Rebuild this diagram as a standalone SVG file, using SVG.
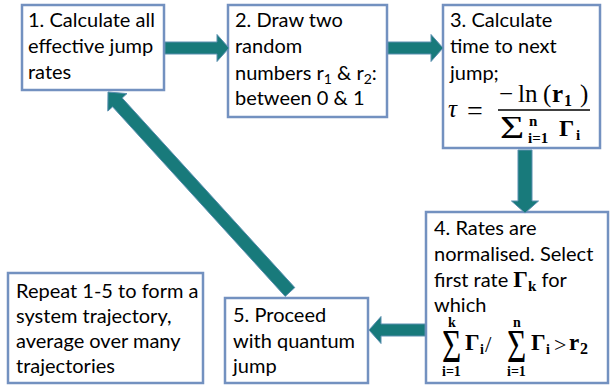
<svg xmlns="http://www.w3.org/2000/svg" width="611" height="385" viewBox="0 0 611 385">
<style>
.box{fill:#fff;stroke:#7391c0;stroke-width:2.5}
.t{font-family:Lato,"Open Sans",sans-serif;font-size:20px;fill:#000}
.m{font-family:"Liberation Serif","DejaVu Serif",serif;fill:#000}
.b{font-weight:bold}
.arr{fill:#187a7b;stroke:#5a8fb0;stroke-width:1}
</style>
<rect width="611" height="385" fill="#fff"/>
<g id="node1">
<rect class="box" x="22" y="5" width="142" height="85"/>
<text class="t" x="28" y="27">1. Calculate all</text>
<text class="t" x="28" y="53">effective jump</text>
<text class="t" x="28" y="79">rates</text>
</g>
<g id="node2">
<rect class="box" x="228" y="5" width="159" height="112"/>
<text class="t" x="235" y="27">2. Draw two</text>
<text class="t" x="235" y="53">random</text>
<text class="t" x="235" y="80">numbers r<tspan font-size="14" dy="4">1</tspan><tspan dy="-4"> &amp; r</tspan><tspan font-size="14" dy="4">2</tspan><tspan dy="-4">:</tspan></text>
<text class="t" x="235" y="105">between 0 &amp; 1</text>
</g>
<g id="node3">
<rect class="box" x="443" y="5" width="157" height="143"/>
<text class="t" x="450" y="27">3. Calculate</text>
<text class="t" x="450" y="53">time to next</text>
<text class="t" x="450" y="80">jump;</text>
<text class="m" x="448" y="117" font-size="25" font-style="italic">τ</text>
<text class="m" x="467" y="120" font-size="28">=</text>
<line x1="498" y1="110" x2="590" y2="110" stroke="#000" stroke-width="1.3"/>
<text class="m" x="499" y="102" font-size="25">−</text>
<text class="m" x="518" y="102" font-size="25">ln</text>
<text class="m" x="543" y="102" font-size="25">(</text>
<text class="m b" x="552" y="102" font-size="25">r</text>
<text class="m b" x="564" y="106" font-size="16">1</text>
<text class="m" x="580" y="102" font-size="25">)</text>
<text class="m" font-size="32" transform="translate(500,138) scale(1.3,1)">Σ</text>
<text class="m b" x="529" y="126" font-size="15">n</text>
<text class="m b" x="528" y="143" font-size="15">i=1</text>
<text class="m b" x="559" y="136" font-size="24">Γ</text>
<text class="m b" x="576" y="140" font-size="15">i</text>
</g>
<g id="node4">
<rect class="box" x="426" y="212" width="182" height="171"/>
<text class="t" x="434" y="235">4. Rates are</text>
<text class="t" x="434" y="261">normalised. Select</text>
<text class="t" x="434" y="287">first rate <tspan class="m b" font-size="23">Γ</tspan><tspan class="m b" font-size="15" dy="4">k</tspan><tspan dy="-4"> for</tspan></text>
<text class="t" x="434" y="312">which</text>
<text class="m" font-size="46" transform="translate(442,362) scale(0.72,1)">Σ</text>
<text class="m b" x="448" y="327" font-size="14">k</text>
<text class="m b" x="442" y="376" font-size="14">i=1</text>
<text class="m b" x="465" y="350" font-size="23">Γ</text>
<text class="m b" x="480" y="354" font-size="14">i</text>
<text class="m" x="485" y="352" font-size="23">/</text>
<text class="m" font-size="46" transform="translate(507,362) scale(0.72,1)">Σ</text>
<text class="m b" x="513" y="327" font-size="14">n</text>
<text class="m b" x="507" y="376" font-size="14">i=1</text>
<text class="m b" x="531" y="350" font-size="23">Γ</text>
<text class="m b" x="546" y="354" font-size="14">i</text>
<text class="m" x="554" y="352" font-size="22">&gt;</text>
<text class="m b" x="569" y="350" font-size="23">r</text>
<text class="m b" x="580" y="354" font-size="16">2</text>
</g>
<g id="node5">
<rect class="box" x="225" y="298" width="143" height="85"/>
<text class="t" x="233" y="322">5. Proceed</text>
<text class="t" x="233" y="348">with quantum</text>
<text class="t" x="233" y="373">jump</text>
</g>
<g id="note">
<rect class="box" x="8" y="273" width="195" height="110"/>
<text class="t" x="16" y="298">Repeat 1-5 to form a</text>
<text class="t" x="16" y="323">system trajectory,</text>
<text class="t" x="16" y="348">average over many</text>
<text class="t" x="16" y="373">trajectories</text>
</g>
<g id="connectors">
<polygon class="arr" points="165,42 217,42 217,34.5 229,48 217,61.5 217,54 165,54"/>
<polygon class="arr" points="388,42 431,42 431,34.5 443,48 431,61.5 431,54 388,54"/>
<polygon class="arr" points="518,150 532,150 532,201 538.5,201 525,213 511.5,201 518,201"/>
<polygon class="arr" points="425,324 381,324 381,316.5 369,330 381,343.5 381,336 425,336"/>
<polygon class="arr" points="294.8,287.6 122.2,98 127,93.6 108,92 107.8,111.1 112.6,106.8 285.2,296.4"/>
</g>
</svg>
